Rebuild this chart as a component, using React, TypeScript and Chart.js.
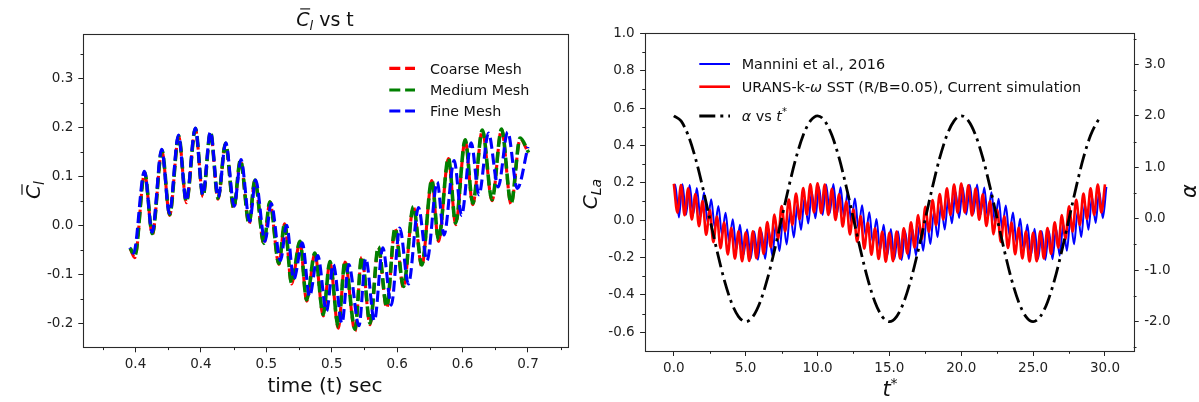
import React, { useEffect, useRef } from 'react';
import { Chart, registerables } from 'chart.js';

Chart.register(...registerables);

const FONT = "'DejaVu Sans', 'Liberation Sans', sans-serif";
const INK = '#222222';
Chart.defaults.font.family = FONT;

// ---------------- Left chart: C_l vs t ----------------
const tMesh = [
  0.396, 0.3995, 0.407, 0.4129, 0.4202, 0.4261, 0.433, 0.4389, 0.4458, 0.4516,
  0.4573, 0.4631, 0.4688, 0.4751, 0.4802, 0.4868, 0.4912, 0.4981, 0.5027, 0.5096,
  0.514, 0.5193, 0.5257, 0.5308, 0.5371, 0.5435, 0.5486, 0.555, 0.5601, 0.5678,
  0.5729, 0.5793, 0.5856, 0.592, 0.5984, 0.6048, 0.6124, 0.6188, 0.6265, 0.6316,
  0.6392, 0.6447, 0.652, 0.6578, 0.6651, 0.6725, 0.6798, 0.6871, 0.694, 0.7005,
];
const coarseCl = [
  -0.048, -0.066, 0.106, -0.019, 0.151, 0.02, 0.181, 0.046, 0.196, 0.058,
  0.189, 0.053, 0.166, 0.034, 0.132, 0.002, 0.091, -0.039, 0.047, -0.08,
  0.003, -0.12, -0.034, -0.155, -0.058, -0.185, -0.075, -0.21, -0.075, -0.216,
  -0.065, -0.203, -0.045, -0.169, -0.007, -0.128, 0.037, -0.084, 0.091, -0.033,
  0.136, 0.001, 0.173, 0.042, 0.193, 0.05, 0.195, 0.043, 0.176, 0.146,
];
const mediumCl = [
  -0.047, -0.062, 0.108, -0.017, 0.153, 0.022, 0.182, 0.048, 0.197, 0.06,
  0.19, 0.055, 0.167, 0.036, 0.133, 0.004, 0.092, -0.037, 0.048, -0.078,
  0.004, -0.118, -0.033, -0.152, -0.057, -0.182, -0.074, -0.207, -0.074, -0.212,
  -0.064, -0.2, -0.044, -0.166, -0.006, -0.125, 0.038, -0.081, 0.092, -0.03,
  0.137, 0.004, 0.174, 0.045, 0.194, 0.052, 0.196, 0.045, 0.178, 0.148,
];
const tFine = [
  0.3955, 0.3985, 0.4068, 0.4127, 0.42, 0.4259, 0.4328, 0.4388, 0.4457, 0.4515,
  0.4573, 0.4632, 0.469, 0.4754, 0.4806, 0.4873, 0.4918, 0.499, 0.5037, 0.5108,
  0.5155, 0.521, 0.5275, 0.533, 0.5393, 0.546, 0.5512, 0.5578, 0.563, 0.5708,
  0.576, 0.5826, 0.589, 0.5955, 0.602, 0.6086, 0.6163, 0.6228, 0.6306, 0.6358,
  0.6436, 0.6492, 0.6566, 0.6625, 0.6698, 0.6772, 0.6845, 0.6918, 0.7,
];
const fineCl = [
  -0.046, -0.057, 0.11, -0.014, 0.155, 0.024, 0.184, 0.05, 0.198, 0.062,
  0.191, 0.057, 0.168, 0.039, 0.134, 0.008, 0.092, -0.033, 0.044, -0.072,
  0.0, -0.11, -0.036, -0.145, -0.062, -0.175, -0.08, -0.2, -0.08, -0.205,
  -0.068, -0.195, -0.046, -0.163, -0.006, -0.12, 0.036, -0.072, 0.088, -0.02,
  0.132, 0.02, 0.168, 0.062, 0.188, 0.078, 0.19, 0.075, 0.16,
];
const leftXTicks = [0.4, 0.45, 0.5, 0.55, 0.6, 0.65, 0.7];
const leftXTickLabels = ['0.4', '0.4', '0.5', '0.5', '0.6', '0.6', '0.7'];
const leftXMinor = [0.375, 0.425, 0.475, 0.525, 0.575, 0.625, 0.675, 0.725];
const leftYTicks = [-0.2, -0.1, 0, 0.1, 0.2, 0.3];
const leftYTickLabels = ['-0.2', '-0.1', '0.0', '0.1', '0.2', '0.3'];
const leftYMinor = [-0.15, -0.05, 0.05, 0.15, 0.25, 0.35];
const leftLegend = ['Coarse Mesh', 'Medium Mesh', 'Fine Mesh'];

// ---------------- Right chart: C_La and alpha vs t* ----------------
const tRed = [
  0, 0.25, 0.5, 0.75, 1, 1.25, 1.5, 1.75, 2, 2.25,
  2.5, 2.75, 3, 3.25, 3.5, 3.75, 4, 4.25, 4.5, 4.75,
  5, 5.25, 5.5, 5.75, 6, 6.25, 6.5, 6.75, 7, 7.25,
  7.5, 7.75, 8, 8.25, 8.5, 8.75, 9, 9.25, 9.5, 9.75,
  10, 10.25, 10.5, 10.75, 11, 11.25, 11.5, 11.75, 12, 12.25,
  12.5, 12.75, 13, 13.25, 13.5, 13.75, 14, 14.25, 14.5, 14.75,
  15, 15.25, 15.5, 15.75, 16, 16.25, 16.5, 16.75, 17, 17.25,
  17.5, 17.75, 18, 18.25, 18.5, 18.75, 19, 19.25, 19.5, 19.75,
  20, 20.25, 20.5, 20.75, 21, 21.25, 21.5, 21.75, 22, 22.25,
  22.5, 22.75, 23, 23.25, 23.5, 23.75, 24, 24.25, 24.5, 24.75,
  25, 25.25, 25.5, 25.75, 26, 26.25, 26.5, 26.75, 27, 27.25,
  27.5, 27.75, 28, 28.25, 28.5, 28.75, 29, 29.25, 29.5, 29.75,
  30,
];
const redCLa = [
  0.195, 0.04, 0.188, 0.026, 0.171, 0.004, 0.14, -0.032, 0.102, -0.078,
  0.055, -0.118, 0.02, -0.15, -0.012, -0.183, -0.042, -0.206, -0.06, -0.22,
  -0.066, -0.218, -0.06, -0.204, -0.041, -0.18, -0.01, -0.145, 0.03, -0.1,
  0.075, -0.06, 0.11, -0.025, 0.143, 0.005, 0.172, 0.03, 0.192, 0.042,
  0.198, 0.038, 0.19, 0.028, 0.168, 0.001, 0.138, -0.034, 0.1, -0.076,
  0.058, -0.115, 0.022, -0.152, -0.014, -0.185, -0.044, -0.208, -0.062, -0.222,
  -0.068, -0.219, -0.061, -0.206, -0.043, -0.179, -0.012, -0.146, 0.028, -0.102,
  0.072, -0.062, 0.108, -0.027, 0.14, 0.004, 0.17, 0.028, 0.19, 0.04,
  0.196, 0.041, 0.187, 0.025, 0.169, 0.002, 0.139, -0.031, 0.103, -0.075,
  0.056, -0.116, 0.021, -0.149, -0.013, -0.182, -0.041, -0.205, -0.061, -0.221,
  -0.067, -0.22, -0.059, -0.205, -0.042, -0.181, -0.011, -0.147, 0.027, -0.101,
  0.074, -0.061, 0.109, -0.026, 0.142, 0.006, 0.171, 0.029, 0.191, 0.041,
  0.192,
];
const tBlue = [
  0,
  0.1, 0.35, 0.6, 0.85, 1.1, 1.35, 1.6, 1.85, 2.1, 2.35,
  2.6, 2.85, 3.1, 3.35, 3.6, 3.85, 4.1, 4.35, 4.6, 4.85,
  5.1, 5.35, 5.6, 5.85, 6.1, 6.35, 6.6, 6.85, 7.1, 7.35,
  7.6, 7.85, 8.1, 8.35, 8.6, 8.85, 9.1, 9.35, 9.6, 9.85,
  10.1, 10.35, 10.6, 10.85, 11.1, 11.35, 11.6, 11.85, 12.1, 12.35,
  12.6, 12.85, 13.1, 13.35, 13.6, 13.85, 14.1, 14.35, 14.6, 14.85,
  15.1, 15.35, 15.6, 15.85, 16.1, 16.35, 16.6, 16.85, 17.1, 17.35,
  17.6, 17.85, 18.1, 18.35, 18.6, 18.85, 19.1, 19.35, 19.6, 19.85,
  20.1, 20.35, 20.6, 20.85, 21.1, 21.35, 21.6, 21.85, 22.1, 22.35,
  22.6, 22.85, 23.1, 23.35, 23.6, 23.85, 24.1, 24.35, 24.6, 24.85,
  25.1, 25.35, 25.6, 25.85, 26.1, 26.35, 26.6, 26.85, 27.1, 27.35,
  27.6, 27.85, 28.1, 28.35, 28.6, 28.85, 29.1, 29.35, 29.6, 29.85,
  30.1,
];
const blueCLa = [
  0.185,
  0.19, 0.015, 0.192, 0.03, 0.188, 0.032, 0.172, 0.016, 0.148, -0.01,
  0.112, -0.04, 0.076, -0.078, 0.04, -0.118, 0.005, -0.158, -0.025, -0.188,
  -0.048, -0.205, -0.06, -0.212, -0.06, -0.207, -0.046, -0.19, -0.024, -0.165,
  0.006, -0.13, 0.044, -0.092, 0.084, -0.052, 0.121, -0.018, 0.152, 0.01,
  0.178, 0.028, 0.191, 0.036, 0.193, 0.031, 0.176, 0.014, 0.15, -0.012,
  0.116, -0.045, 0.08, -0.082, 0.042, -0.12, 0.006, -0.16, -0.024, -0.19,
  -0.047, -0.208, -0.059, -0.214, -0.059, -0.208, -0.046, -0.189, -0.023, -0.163,
  0.008, -0.128, 0.045, -0.091, 0.085, -0.05, 0.122, -0.017, 0.153, 0.012,
  0.176, 0.03, 0.189, 0.034, 0.191, 0.03, 0.175, 0.013, 0.149, -0.013,
  0.115, -0.046, 0.079, -0.08, 0.041, -0.121, 0.007, -0.161, -0.023, -0.189,
  -0.046, -0.207, -0.058, -0.213, -0.058, -0.209, -0.045, -0.19, -0.022, -0.164,
  0.008, -0.129, 0.046, -0.09, 0.087, -0.051, 0.124, -0.015, 0.155, 0.011,
  0.178,
];
const tAlpha = [
  0, 0.5, 1, 1.5, 2, 2.5, 3, 3.5, 4, 4.5,
  5, 5.5, 6, 6.5, 7, 7.5, 8, 8.5, 9, 9.5,
  10, 10.5, 11, 11.5, 12, 12.5, 13, 13.5, 14, 14.5,
  15, 15.5, 16, 16.5, 17, 17.5, 18, 18.5, 19, 19.5,
  20, 20.5, 21, 21.5, 22, 22.5, 23, 23.5, 24, 24.5,
  25, 25.5, 26, 26.5, 27, 27.5, 28, 28.5, 29, 29.5,
  29.6,
];
const alphaVals = [
  2.0, 1.9, 1.62, 1.18, 0.62, 0.0, -0.62, -1.18, -1.62, -1.9,
  -2.0, -1.9, -1.62, -1.18, -0.62, 0.0, 0.62, 1.18, 1.62, 1.9,
  2.0, 1.9, 1.62, 1.18, 0.62, 0.0, -0.62, -1.18, -1.62, -1.9,
  -2.0, -1.9, -1.62, -1.18, -0.62, 0.0, 0.62, 1.18, 1.62, 1.9,
  2.0, 1.9, 1.62, 1.18, 0.62, 0.0, -0.62, -1.18, -1.62, -1.9,
  -2.0, -1.9, -1.62, -1.18, -0.62, 0.0, 0.62, 1.18, 1.62, 1.9,
  1.94,
];
const rightXTicks = [0, 5, 10, 15, 20, 25, 30];
const rightXTickLabels = ['0.0', '5.0', '10.0', '15.0', '20.0', '25.0', '30.0'];
const rightXMinor = [2.5, 7.5, 12.5, 17.5, 22.5, 27.5];
const rightYTicks = [-0.6, -0.4, -0.2, 0, 0.2, 0.4, 0.6, 0.8, 1.0];
const rightYTickLabels = ['-0.6', '-0.4', '-0.2', '0.0', '0.2', '0.4', '0.6', '0.8', '1.0'];
const rightYMinor = [-0.5, -0.3, -0.1, 0.1, 0.3, 0.5, 0.7, 0.9];
const rightY1Ticks = [-2, -1, 0, 1, 2, 3];
const rightY1TickLabels = ['-2.0', '-1.0', '0.0', '1.0', '2.0', '3.0'];
const rightY1Minor = [-2.5, -1.5, -0.5, 0.5, 1.5, 2.5, 3.5];

// ---------------- helpers ----------------
type Part = { t: string; size: number; italic?: boolean; dy?: number; bar?: boolean };

function fontStr(size: number, italic?: boolean) {
  return `${italic ? 'italic ' : ''}${size}px ${FONT}`;
}

function drawParts(ctx: CanvasRenderingContext2D, parts: Part[], x: number, y: number, align: 'left' | 'center') {
  ctx.textBaseline = 'alphabetic';
  ctx.textAlign = 'left';
  const widths = parts.map((p) => {
    ctx.font = fontStr(p.size, p.italic);
    return ctx.measureText(p.t).width;
  });
  const total = widths.reduce((a, b) => a + b, 0);
  let cx = align === 'center' ? x - total / 2 : x;
  parts.forEach((p, i) => {
    ctx.font = fontStr(p.size, p.italic);
    const py = y + (p.dy || 0);
    ctx.fillText(p.t, cx, py);
    if (p.bar) {
      ctx.save();
      ctx.lineWidth = Math.max(1, p.size * 0.06);
      ctx.strokeStyle = ctx.fillStyle as string;
      ctx.beginPath();
      const by = py - p.size * 0.9;
      ctx.moveTo(cx + widths[i] * 0.3, by);
      ctx.lineTo(cx + widths[i] * 1.05, by);
      ctx.stroke();
      ctx.restore();
    }
    cx += widths[i];
  });
}

function drawRotated(ctx: CanvasRenderingContext2D, parts: Part[], x: number, y: number) {
  ctx.save();
  ctx.translate(x, y);
  ctx.rotate(-Math.PI / 2);
  drawParts(ctx, parts, 0, 0, 'center');
  ctx.restore();
}

function drawFrame(chart: any) {
  const { ctx, chartArea: a } = chart;
  ctx.save();
  ctx.strokeStyle = '#2a2a2a';
  ctx.lineWidth = 1.1;
  const l = Math.round(a.left) + 0.5;
  const t = Math.round(a.top) + 0.5;
  const r = Math.round(a.right) + 0.5;
  const b = Math.round(a.bottom) + 0.5;
  ctx.strokeRect(l, t, r - l, b - t);
  ctx.restore();
}

function drawMinor(chart: any, id: string, values: number[], side: 'bottom' | 'left' | 'right', len: number) {
  const s = chart.scales[id];
  const a = chart.chartArea;
  const ctx = chart.ctx as CanvasRenderingContext2D;
  ctx.save();
  ctx.strokeStyle = INK;
  ctx.lineWidth = 1;
  ctx.beginPath();
  values.forEach((v) => {
    const p = Math.round(s.getPixelForValue(v)) + 0.5;
    if (side === 'bottom') {
      ctx.moveTo(p, a.bottom);
      ctx.lineTo(p, a.bottom + len);
    } else if (side === 'left') {
      ctx.moveTo(a.left, p);
      ctx.lineTo(a.left - len, p);
    } else {
      ctx.moveTo(a.right, p);
      ctx.lineTo(a.right + len, p);
    }
  });
  ctx.stroke();
  ctx.restore();
}

function legendLine(ctx: CanvasRenderingContext2D, x0: number, x1: number, y: number, color: string, width: number, dash: number[]) {
  ctx.save();
  ctx.strokeStyle = color;
  ctx.lineWidth = width;
  ctx.setLineDash(dash);
  ctx.lineCap = 'butt';
  ctx.beginPath();
  ctx.moveTo(x0, y);
  ctx.lineTo(x1, y);
  ctx.stroke();
  ctx.restore();
}

function axisCommon(ticks: number[], labels: string[], padding: number) {
  return {
    type: 'linear' as const,
    afterBuildTicks: (s: any) => {
      s.ticks = ticks.map((v) => ({ value: v }));
    },
    ticks: {
      callback: (_v: any, i: number) => labels[i],
      font: { family: FONT, size: 13.5 },
      color: INK,
      padding,
      autoSkip: false,
      maxRotation: 0,
      minRotation: 0,
    },
    grid: { drawOnChartArea: false, drawTicks: true, tickLength: 5, color: INK, lineWidth: 1 },
    border: { display: false },
  };
}

const lineCommon = {
  pointRadius: 0,
  pointHoverRadius: 0,
  fill: false,
  tension: 0.4,
  cubicInterpolationMode: 'monotone' as const,
  borderCapStyle: 'butt' as const,
};

const MESH_DASH = [11, 4.8];
const ALPHA_DASH = [16, 5, 3, 5];

function leftConfig(): any {
  const decor = {
    id: 'leftDecor',
    afterDraw(chart: any) {
      const ctx = chart.ctx as CanvasRenderingContext2D;
      drawFrame(chart);
      drawMinor(chart, 'x', leftXMinor, 'bottom', 2.8);
      drawMinor(chart, 'y', leftYMinor, 'left', 2.8);
      ctx.save();
      ctx.fillStyle = '#111';
      // title
      drawParts(
        ctx,
        [
          { t: 'C', size: 19, italic: true, bar: true },
          { t: 'l', size: 13, italic: true, dy: 4 },
          { t: ' vs t', size: 19 },
        ],
        325,
        26,
        'center'
      );
      // axis titles
      drawParts(ctx, [{ t: 'time (t) sec', size: 20 }], 325, 392, 'center');
      drawRotated(
        ctx,
        [
          { t: 'C', size: 20, italic: true, bar: true },
          { t: 'l', size: 14, italic: true, dy: 4 },
        ],
        40,
        190
      );
      // legend
      const rows = [68.3, 90, 111];
      const colors = ['#ff0000', '#008000', '#0000ff'];
      rows.forEach((ry, i) => {
        legendLine(ctx, 389.3, 415, ry, colors[i], 3.2, MESH_DASH);
        drawParts(ctx, [{ t: leftLegend[i], size: 14.3 }], 430, ry + 5.2, 'left');
      });
      ctx.restore();
    },
  };
  return {
    type: 'line',
    data: {
      datasets: [
        {
          label: leftLegend[0],
          data: tMesh.map((t, i) => ({ x: t, y: coarseCl[i] })),
          borderColor: '#ff0000',
          borderWidth: 3.1,
          borderDash: MESH_DASH,
          borderDashOffset: 0,
          order: 2,
          ...lineCommon,
        },
        {
          label: leftLegend[1],
          data: tMesh.map((t, i) => ({ x: t, y: mediumCl[i] })),
          borderColor: '#008000',
          borderWidth: 3.6,
          borderDash: MESH_DASH,
          borderDashOffset: 5.5,
          order: 1,
          ...lineCommon,
        },
        {
          label: leftLegend[2],
          data: tFine.map((t, i) => ({ x: t, y: fineCl[i] })),
          borderColor: '#0000ff',
          borderWidth: 3.1,
          borderDash: MESH_DASH,
          borderDashOffset: 10,
          order: 0,
          ...lineCommon,
        },
      ],
    },
    options: {
      animation: false,
      responsive: false,
      devicePixelRatio: 1,
      layout: { padding: { top: 34, right: 32.5, left: 0, bottom: 0 } },
      plugins: { legend: { display: false }, tooltip: { enabled: false }, title: { display: false } },
      events: [],
      scales: {
        x: {
          ...axisCommon(leftXTicks, leftXTickLabels, 4),
          min: 0.3601,
          max: 0.7302,
          afterFit: (s: any) => {
            s.height = 54.7;
          },
        },
        y: {
          ...axisCommon(leftYTicks, leftYTickLabels, 5),
          min: -0.249,
          max: 0.39,
          afterFit: (s: any) => {
            s.width = 83.3;
          },
        },
      },
    },
    plugins: [decor],
  };
}

function rightConfig(): any {
  const decor = {
    id: 'rightDecor',
    afterDraw(chart: any) {
      const ctx = chart.ctx as CanvasRenderingContext2D;
      drawFrame(chart);
      drawMinor(chart, 'x', rightXMinor, 'bottom', 2.8);
      drawMinor(chart, 'y', rightYMinor, 'left', 2.8);
      drawMinor(chart, 'y1', rightY1Minor, 'right', 2.8);
      ctx.save();
      ctx.fillStyle = '#111';
      drawParts(
        ctx,
        [
          { t: 't', size: 21, italic: true },
          { t: '*', size: 14, dy: -8 },
        ],
        315,
        396,
        'center'
      );
      drawRotated(
        ctx,
        [
          { t: 'C', size: 20, italic: true },
          { t: 'La', size: 14, italic: true, dy: 4 },
        ],
        22,
        194
      );
      drawRotated(ctx, [{ t: 'α', size: 21, italic: true }], 621, 191);
      // legend
      const lx0 = 124.3;
      const lx1 = 155;
      const tx = 166.7;
      legendLine(ctx, lx0, lx1, 64, '#0000ff', 2.0, []);
      drawParts(ctx, [{ t: 'Mannini et al., 2016', size: 14.4 }], tx, 64 + 5.2, 'left');
      legendLine(ctx, lx0, lx1, 86.7, '#ff0000', 2.6, []);
      drawParts(
        ctx,
        [
          { t: 'URANS-k-', size: 14.4 },
          { t: 'ω', size: 14.4, italic: true },
          { t: ' SST (R/B=0.05), Current simulation', size: 14.4 },
        ],
        tx,
        86.7 + 5.2,
        'left'
      );
      legendLine(ctx, lx0, lx1, 116, '#000000', 2.8, ALPHA_DASH);
      drawParts(
        ctx,
        [
          { t: 'α', size: 14.4, italic: true },
          { t: ' vs ', size: 14.4 },
          { t: 't', size: 14.4, italic: true },
          { t: '*', size: 10, dy: -6 },
        ],
        tx,
        116 + 5.2,
        'left'
      );
      ctx.restore();
    },
  };
  return {
    type: 'line',
    data: {
      datasets: [
        {
          label: 'Mannini et al., 2016',
          data: tBlue.map((t, i) => ({ x: t, y: blueCLa[i] })),
          borderColor: '#0000ff',
          borderWidth: 2.0,
          yAxisID: 'y',
          order: 2,
          ...lineCommon,
        },
        {
          label: 'URANS-k-ω SST (R/B=0.05), Current simulation',
          data: tRed.map((t, i) => ({ x: t, y: redCLa[i] })),
          borderColor: '#ff0000',
          borderWidth: 2.6,
          yAxisID: 'y',
          order: 1,
          ...lineCommon,
        },
        {
          label: 'α vs t*',
          data: tAlpha.map((t, i) => ({ x: t, y: alphaVals[i] })),
          borderColor: '#000000',
          borderWidth: 2.8,
          borderDash: ALPHA_DASH,
          yAxisID: 'y1',
          order: 0,
          ...lineCommon,
        },
      ],
    },
    options: {
      animation: false,
      responsive: false,
      devicePixelRatio: 1,
      layout: { padding: { top: 33.3, right: 0, left: 0, bottom: 0 } },
      plugins: { legend: { display: false }, tooltip: { enabled: false }, title: { display: false } },
      events: [],
      scales: {
        x: {
          ...axisCommon(rightXTicks, rightXTickLabels, 4),
          min: -2,
          max: 32,
          afterFit: (s: any) => {
            s.height = 51;
          },
        },
        y: {
          ...axisCommon(rightYTicks, rightYTickLabels, 5.5),
          position: 'left',
          min: -0.7,
          max: 1.0,
          afterFit: (s: any) => {
            s.width = 70.1;
          },
        },
        y1: {
          ...axisCommon(rightY1Ticks, rightY1TickLabels, 5.5),
          position: 'right',
          min: -2.569,
          max: 3.602,
          afterFit: (s: any) => {
            s.width = 65.3;
          },
        },
      },
    },
    plugins: [decor],
  };
}

export default function App() {
  const leftRef = useRef<HTMLCanvasElement>(null);
  const rightRef = useRef<HTMLCanvasElement>(null);
  useEffect(() => {
    const c1 = new Chart(leftRef.current as HTMLCanvasElement, leftConfig());
    const c2 = new Chart(rightRef.current as HTMLCanvasElement, rightConfig());
    return () => {
      c1.destroy();
      c2.destroy();
    };
  }, []);
  return (
    <div>
      <canvas
        ref={leftRef}
        width={600}
        height={402}
        style={{ position: 'absolute', left: 0, top: 0, width: 600, height: 402 }}
      />
      <canvas
        ref={rightRef}
        width={624}
        height={402}
        style={{ position: 'absolute', left: 575, top: 0, width: 624, height: 402 }}
      />
    </div>
  );
}
